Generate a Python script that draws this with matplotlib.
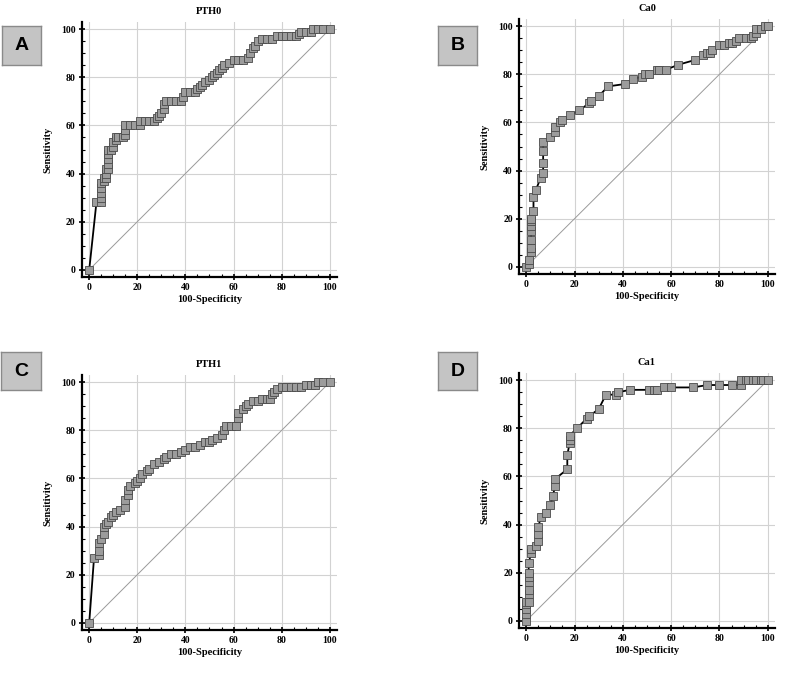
import matplotlib

matplotlib.use("Agg")
import matplotlib.pyplot as plt
from matplotlib.ticker import MultipleLocator

# ROC curves: (100-Specificity, Sensitivity)
PTH0_FPR = [0, 3, 5, 5, 5, 5, 5, 6, 6, 7, 7, 7, 8, 8, 8, 8, 8, 9, 10, 10, 11, 11, 12, 14, 15, 15, 15,
            17, 19, 21, 21, 23, 25, 27, 28, 29, 30, 31, 31, 32, 34, 36, 38, 39, 40, 42, 44, 45, 46,
            47, 48, 50, 51, 52, 53, 54, 55, 56, 58, 60, 62, 64, 66, 67, 68, 69, 70, 72, 74, 76, 78,
            80, 82, 84, 86, 87, 88, 90, 92, 93, 95, 97, 100]
PTH0_TPR = [0, 28, 28, 30, 32, 34, 36, 37, 38, 38, 40, 42, 42, 44, 46, 48, 50, 50, 51, 53, 54, 55,
            55, 55, 56, 58, 60, 60, 60, 60, 62, 62, 62, 62, 63, 64, 65, 67, 69, 70, 70, 70, 70, 72,
            74, 74, 74, 75, 76, 77, 78, 79, 80, 81, 82, 83, 84, 85, 86, 87, 87, 87, 88, 90, 92, 93,
            95, 96, 96, 96, 97, 97, 97, 97, 97, 98, 99, 99, 99, 100, 100, 100, 100]

CA0_FPR = [0, 1, 1, 2, 2, 2, 2, 2, 2, 2, 3, 3, 4, 6, 7, 7, 7, 7, 10, 12, 12, 14, 15, 18, 22, 26,
           27, 30, 34, 41, 44, 48, 49, 51, 54, 55, 58, 63, 70, 73, 75, 76, 77, 80, 82, 84, 85, 87,
           88, 91, 93, 94, 95, 95, 97, 99, 100]
CA0_TPR = [0, 1, 3, 6, 8, 11, 15, 17, 19, 20, 23, 29, 32, 37, 39, 43, 48, 52, 54, 56, 58, 60, 61,
           63, 65, 68, 69, 71, 75, 76, 78, 79, 80, 80, 82, 82, 82, 84, 86, 88, 89, 89, 90, 92, 92,
           93, 93, 94, 95, 95, 95, 96, 97, 99, 99, 100, 100]

PTH1_FPR = [0, 2, 4, 4, 4, 5, 6, 6, 7, 8, 9, 10, 11, 13, 15, 15, 16, 16, 17, 19, 20, 21, 22, 24,
            25, 27, 29, 31, 32, 34, 36, 38, 40, 42, 44, 46, 48, 50, 51, 53, 55, 56, 57, 59, 61,
            62, 62, 64, 65, 66, 68, 70, 72, 74, 75, 76, 77, 78, 80, 82, 84, 86, 88, 90, 92, 94,
            95, 97, 100]
PTH1_TPR = [0, 27, 28, 30, 33, 35, 37, 40, 41, 42, 44, 45, 46, 47, 48, 51, 53, 55, 57, 58, 59, 60,
            62, 63, 64, 66, 67, 68, 69, 70, 70, 71, 72, 73, 73, 74, 75, 75, 76, 77, 78, 80, 82,
            82, 82, 85, 87, 89, 90, 91, 92, 92, 93, 93, 93, 95, 96, 97, 98, 98, 98, 98, 98, 99,
            99, 99, 100, 100, 100]

CA1_FPR = [0, 0, 0, 0, 0, 1, 1, 1, 1, 1, 1, 1, 2, 2, 4, 5, 5, 5, 6, 8, 10, 11, 12, 12, 17, 17, 18,
           18, 18, 21, 25, 26, 30, 33, 37, 38, 43, 51, 53, 54, 57, 60, 69, 75, 80, 85, 89, 89, 91,
           92, 94, 95, 97, 98, 100]
CA1_TPR = [0, 3, 5, 7, 8, 8, 11, 13, 16, 18, 20, 24, 28, 30, 31, 33, 36, 39, 43, 45, 48, 52, 56,
           59, 63, 69, 74, 75, 77, 80, 84, 85, 88, 94, 94, 95, 96, 96, 96, 96, 97, 97, 97, 98, 98,
           98, 98, 100, 100, 100, 100, 100, 100, 100, 100]

PANELS = [
    ("A", "PTH0", PTH0_FPR, PTH0_TPR),
    ("B", "Ca0", CA0_FPR, CA0_TPR),
    ("C", "PTH1", PTH1_FPR, PTH1_TPR),
    ("D", "Ca1", CA1_FPR, CA1_TPR),
]

W, H = 800, 677
# axes boxes in pixels: left, top, right, bottom
AX_BOXES = [(82, 22, 337, 277), (519, 19, 775, 274), (82, 375, 337, 630), (519, 373, 775, 628)]
LETTER_BOXES = [(2, 26, 41, 65), (438, 26, 477, 65), (1, 352, 41, 390), (438, 352, 477, 390)]

SERIF = "Liberation Serif"


def draw_panel(fig, box, letter_box, letter, title, fpr, tpr):
    l, t, r, b = box
    ax = fig.add_axes([l / W, 1 - b / H, (r - l) / W, (b - t) / H])
    ax.plot([0, 100], [0, 100], color="#9a9a9a", lw=0.7, zorder=1)
    ax.plot(fpr, tpr, color="black", lw=1.3, marker="s", markersize=5.2,
            markerfacecolor="#9c9c9c", markeredgecolor="#4a4a4a", markeredgewidth=0.6,
            zorder=3, clip_on=False)
    ax.set_xlim(-3, 103)
    ax.set_ylim(-3, 103)
    ax.xaxis.set_major_locator(MultipleLocator(20))
    ax.yaxis.set_major_locator(MultipleLocator(20))
    ax.xaxis.set_minor_locator(MultipleLocator(5))
    ax.yaxis.set_minor_locator(MultipleLocator(5))
    ax.grid(True, which="major", color="#d2d2d2", lw=0.8)
    ax.set_axisbelow(True)
    for side in ("top", "right"):
        ax.spines[side].set_visible(False)
    for side in ("left", "bottom"):
        ax.spines[side].set_linewidth(1.6)
    ax.tick_params(which="major", direction="inout", length=5, width=1.2, labelsize=7, pad=2)
    ax.tick_params(which="minor", direction="in", length=2.5, width=0.8)
    for lab in ax.get_xticklabels() + ax.get_yticklabels():
        lab.set_fontfamily(SERIF)
        lab.set_fontweight("bold")
    ax.set_title(title, fontsize=7.5, fontweight="bold", family=SERIF, pad=6)
    ax.set_xlabel("100-Specificity", fontsize=7.5, fontweight="bold", family=SERIF, labelpad=2)
    ax.set_ylabel("Sensitivity", fontsize=7.5, fontweight="bold", family=SERIF, labelpad=6)

    bl, bt, br, bb = letter_box
    lax = fig.add_axes([bl / W, 1 - bb / H, (br - bl) / W, (bb - bt) / H])
    lax.set_xticks([])
    lax.set_yticks([])
    lax.set_facecolor("#c4c4c4")
    for sp in lax.spines.values():
        sp.set_color("#8a8a8a")
        sp.set_linewidth(1.0)
    lax.text(0.5, 0.5, letter, ha="center", va="center", fontsize=14, fontweight="bold",
             family="Liberation Sans", transform=lax.transAxes)


def main():
    fig = plt.figure(figsize=(W / 100, H / 100), dpi=100)
    for box, letter_box, (letter, title, fpr, tpr) in zip(AX_BOXES, LETTER_BOXES, PANELS):
        draw_panel(fig, box, letter_box, letter, title, fpr, tpr)
    fig.savefig("out.png", dpi=100)
    plt.close(fig)


if __name__ == "__main__":
    main()
